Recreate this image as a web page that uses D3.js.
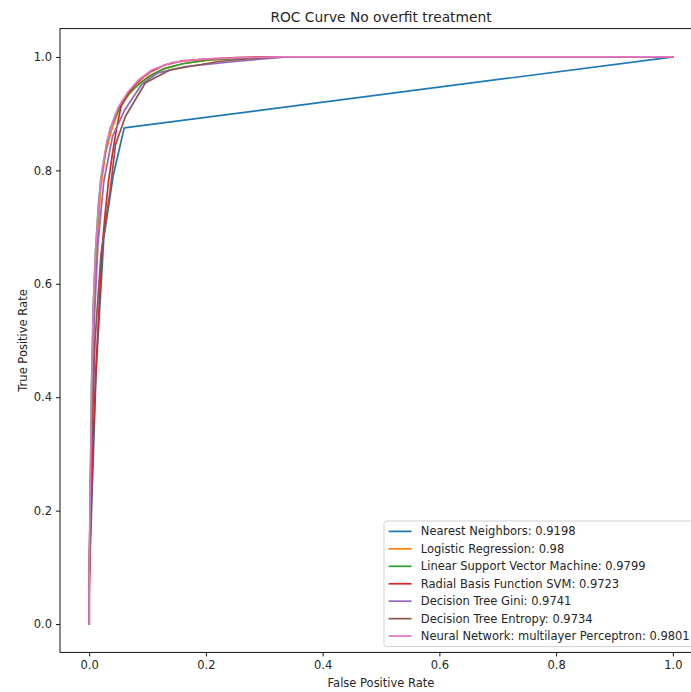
<!DOCTYPE html>
<html>
<head>
<meta charset="utf-8">
<script src="https://cdn.jsdelivr.net/npm/d3@7"></script>
<style>
  html, body { margin: 0; padding: 0; background: #fff; }
  svg { display: block; font-family: "DejaVu Sans", sans-serif; }
</style>
</head>
<body>
<div id="chart"></div>
<script>
/**
 * ROC curves - D3.js v7 redraw of a matplotlib figure
 */

// Data: one fpr / tpr pair per classifier
const modelNames = [
  'Nearest Neighbors: 0.9198',
  'Logistic Regression: 0.98',
  'Linear Support Vector Machine: 0.9799',
  'Radial Basis Function SVM: 0.9723',
  'Decision Tree Gini: 0.9741',
  'Decision Tree Entropy: 0.9734',
  'Neural Network: multilayer Perceptron: 0.9801'
];

const knnFpr = [0, 0, 0.004, 0.012, 0.025, 0.041, 0.06, 1];
const knnTpr = [0, 0.08, 0.2, 0.45, 0.68, 0.79, 0.875, 1];

const logregFpr = [0, 0, 0.002, 0.005, 0.009, 0.014, 0.02, 0.028, 0.038, 0.05, 0.065, 0.08, 0.1, 0.125, 0.16, 0.2, 0.25, 0.3, 0.35, 1];
const logregTpr = [0, 0.07, 0.22, 0.4, 0.57, 0.68, 0.77, 0.83, 0.87, 0.905, 0.93, 0.948, 0.965, 0.978, 0.988, 0.994, 0.998, 0.999, 1, 1];

const linsvmFpr = [0, 0, 0.002, 0.004, 0.007, 0.011, 0.016, 0.02, 0.03, 0.036, 0.053, 0.07, 0.09, 0.11, 0.13, 0.16, 0.204, 0.26, 0.32, 1];
const linsvmTpr = [0, 0.08, 0.24, 0.42, 0.56, 0.66, 0.74, 0.785, 0.845, 0.874, 0.912, 0.938, 0.956, 0.97, 0.98, 0.988, 0.995, 0.998, 1, 1];

const rbfFpr = [0, 0, 0.002, 0.004, 0.007, 0.01, 0.014, 0.018, 0.022, 0.027, 0.033, 0.04, 0.047, 0.055, 0.066, 0.079, 0.092, 0.107, 0.13, 0.159, 0.2, 0.25, 0.3, 1];
const rbfTpr = [0, 0.05, 0.15, 0.24, 0.33, 0.41, 0.5, 0.58, 0.66, 0.72, 0.78, 0.83, 0.874, 0.915, 0.935, 0.951, 0.964, 0.975, 0.986, 0.993, 0.996, 0.999, 1, 1];

const giniFpr = [0, 0, 0.003, 0.008, 0.015, 0.025, 0.04, 0.06, 0.09, 0.118, 0.164, 0.25, 0.313, 0.34, 1];
const giniTpr = [0, 0.08, 0.3, 0.52, 0.67, 0.78, 0.86, 0.905, 0.952, 0.972, 0.983, 0.992, 0.998, 1, 1];

const entropyFpr = [0, 0, 0.004, 0.01, 0.02, 0.036, 0.045, 0.062, 0.096, 0.138, 0.221, 0.3, 0.34, 1];
const entropyTpr = [0, 0.08, 0.3, 0.5, 0.65, 0.765, 0.845, 0.895, 0.954, 0.977, 0.992, 0.999, 1, 1];

const mlpFpr = [0, 0, 0.002, 0.004, 0.007, 0.011, 0.016, 0.022, 0.03, 0.04, 0.05, 0.067, 0.084, 0.107, 0.142, 0.193, 0.26, 0.336, 1];
const mlpTpr = [0, 0.09, 0.25, 0.41, 0.56, 0.66, 0.74, 0.8, 0.85, 0.885, 0.912, 0.939, 0.959, 0.977, 0.99, 0.996, 0.999, 1, 1];

const xTicks = [0, 0.2, 0.4, 0.6, 0.8, 1.0];
const yTicks = [0, 0.2, 0.4, 0.6, 0.8, 1.0];

// Configuration (figure was saved at ~83 dpi, so 1pt is about 1.15px)
const PT = 1.15;
const CONFIG = {
  width: 691,
  height: 692,
  plot: { left: 60, right: 702, top: 28.6, bottom: 652.4 },
  colors: ['#1f77b4', '#ff7f0e', '#2ca02c', '#d62728', '#9467bd', '#8c564b', '#e377c2'],
  text: '#262626',
  fontSize: 10 * PT,
  titleSize: 12 * PT,
  lineWidth: 1.5 * PT,
  legend: { left: 384, top: 521, right: 696.3, bottom: 646.6, rowStart: 531.4, rowStep: 17.45 }
};

const curves = [
  [knnFpr, knnTpr],
  [logregFpr, logregTpr],
  [linsvmFpr, linsvmTpr],
  [rbfFpr, rbfTpr],
  [giniFpr, giniTpr],
  [entropyFpr, entropyTpr],
  [mlpFpr, mlpTpr]
].map(([fpr, tpr], i) => ({
  name: modelNames[i],
  color: CONFIG.colors[i],
  points: fpr.map((f, j) => [f, tpr[j]])
}));

const svg = d3.select('#chart')
  .append('svg')
  .attr('width', CONFIG.width)
  .attr('height', CONFIG.height);

const plotLeft = CONFIG.plot.left;
const plotRight = CONFIG.plot.right;
const plotTop = CONFIG.plot.top;
const plotBottom = CONFIG.plot.bottom;

const x = d3.scaleLinear().domain([-0.05, 1.05]).range([plotLeft, plotRight]);
const y = d3.scaleLinear().domain([-0.05, 1.05]).range([plotBottom, plotTop]);

// Curves
const line = d3.line()
  .x(d => x(d[0]))
  .y(d => y(d[1]));

svg.append('g')
  .attr('class', 'curves')
  .selectAll('path')
  .data(curves)
  .enter()
  .append('path')
  .attr('d', d => line(d.points))
  .attr('fill', 'none')
  .attr('stroke', d => d.color)
  .attr('stroke-width', CONFIG.lineWidth)
  .attr('stroke-linejoin', 'round')
  .attr('stroke-linecap', 'square');

// Axes
const tickLen = 3.5 * PT;

const xAxis = svg.append('g')
  .attr('transform', `translate(0,${plotBottom})`)
  .call(d3.axisBottom(x).tickValues(xTicks).tickFormat(d3.format('.1f')).tickSize(tickLen).tickPadding(tickLen));

const yAxis = svg.append('g')
  .attr('transform', `translate(${plotLeft},0)`)
  .call(d3.axisLeft(y).tickValues(yTicks).tickFormat(d3.format('.1f')).tickSize(tickLen).tickPadding(tickLen));

[xAxis, yAxis].forEach(ax => {
  ax.select('.domain').remove();
  ax.selectAll('line').attr('stroke', '#000').attr('stroke-width', 0.8 * PT);
  ax.selectAll('text')
    .attr('fill', CONFIG.text)
    .style('font-size', `${CONFIG.fontSize}px`)
    .style('font-family', '"DejaVu Sans", sans-serif');
});

// Spines (matplotlib style box)
svg.append('rect')
  .attr('x', plotLeft)
  .attr('y', plotTop)
  .attr('width', plotRight - plotLeft)
  .attr('height', plotBottom - plotTop)
  .attr('fill', 'none')
  .attr('stroke', '#000')
  .attr('stroke-width', 0.8 * PT);

// Title and axis labels
svg.append('text')
  .attr('x', (plotLeft + plotRight) / 2)
  .attr('y', plotTop - 6 * PT)
  .attr('text-anchor', 'middle')
  .attr('fill', CONFIG.text)
  .style('font-size', `${CONFIG.titleSize}px`)
  .text('ROC Curve No overfit treatment');

svg.append('text')
  .attr('x', (plotLeft + plotRight) / 2)
  .attr('y', 687)
  .attr('text-anchor', 'middle')
  .attr('fill', CONFIG.text)
  .style('font-size', `${CONFIG.fontSize}px`)
  .text('False Positive Rate');

svg.append('text')
  .attr('transform', `translate(26.5,${(plotTop + plotBottom) / 2}) rotate(-90)`)
  .attr('text-anchor', 'middle')
  .attr('fill', CONFIG.text)
  .style('font-size', `${CONFIG.fontSize}px`)
  .text('True Positive Rate');

// Legend
const lg = CONFIG.legend;
const legend = svg.append('g').attr('class', 'legend');

legend.append('rect')
  .attr('x', lg.left)
  .attr('y', lg.top)
  .attr('width', lg.right - lg.left)
  .attr('height', lg.bottom - lg.top)
  .attr('rx', 2.5)
  .attr('fill', '#fff')
  .attr('fill-opacity', 0.8)
  .attr('stroke', '#cccccc')
  .attr('stroke-width', 0.8 * PT);

const rows = legend.selectAll('g.row')
  .data(curves)
  .enter()
  .append('g')
  .attr('class', 'row')
  .attr('transform', (d, i) => `translate(0,${lg.rowStart + i * lg.rowStep})`);

rows.append('line')
  .attr('x1', lg.left + 0.4 * CONFIG.fontSize)
  .attr('x2', lg.left + 2.4 * CONFIG.fontSize)
  .attr('stroke', d => d.color)
  .attr('stroke-width', CONFIG.lineWidth);

rows.append('text')
  .attr('x', lg.left + 3.2 * CONFIG.fontSize)
  .attr('dy', '0.35em')
  .attr('fill', CONFIG.text)
  .style('font-size', `${CONFIG.fontSize}px`)
  .text(d => d.name);
</script>
</body>
</html>
